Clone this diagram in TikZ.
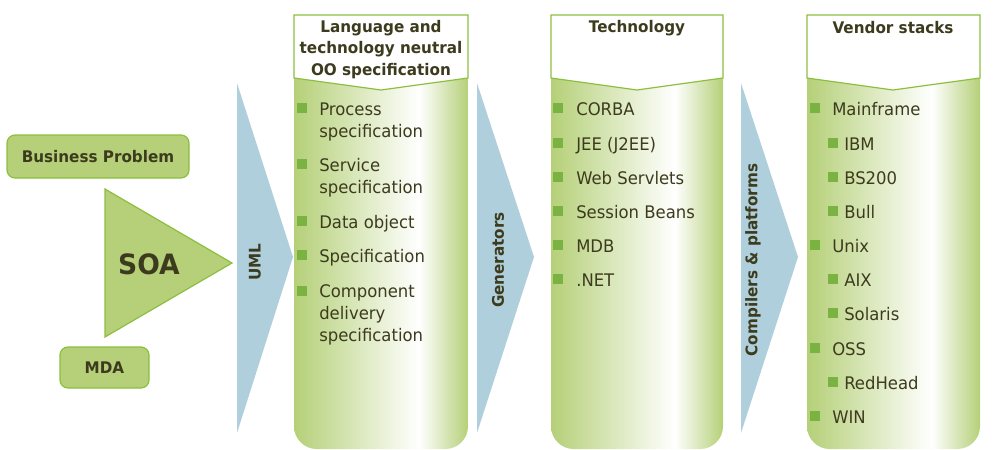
\documentclass[tikz,border=0pt]{standalone}
\usepackage{fontspec}
\setmainfont{DejaVu Sans}[FakeStretch=0.95]
\definecolor{lg}{HTML}{B5D078}
\definecolor{gb}{HTML}{8DBF3F}
\definecolor{bul}{HTML}{7AB342}
\definecolor{blu}{HTML}{AFCFDC}
\definecolor{txt}{HTML}{3D3B1E}
\pgfdeclarehorizontalshading{colgrad}{100bp}{color(0bp)=(lg); color(25bp)=(lg); color(61bp)=(white); color(75bp)=(lg); color(100bp)=(lg)}
\tikzset{
  item/.style={anchor=west, inner sep=0pt, text=txt, font=\fontsize{13}{15}\selectfont, text height=0.75em, text depth=0.25em},
  hdtext/.style={inner sep=0pt, text=txt, font=\bfseries\fontsize{12}{16.2}\selectfont, align=center},
  bulsq/.style={fill=bul, draw=none, minimum size=7.5pt, inner sep=0pt},
  hdr/.style={fill=white, draw=gb, line width=0.9pt},
  colbody/.style={shading=colgrad, rounded corners=17pt},
  blarrow/.style={fill=blu, draw=none},
  rlab/.style={rotate=90, text=txt, font=\bfseries\fontsize{12}{14}\selectfont, inner sep=0pt},
  gbox/.style={fill=lg, draw=gb, line width=0.9pt, rounded corners=6pt, text=txt, font=\bfseries\fontsize{12}{14}\selectfont}
}
\begin{document}
\begin{tikzpicture}[x=0.75pt,y=-0.75pt]
\useasboundingbox (0,0) rectangle (1004,450);
% left boxes
\node[gbox, minimum width=136.5pt, minimum height=32.25pt] (bp) at (98,156.5) {Business Problem};
\draw[fill=lg, draw=gb, line width=0.9pt] (105,189) -- (232,263) -- (105,337) -- cycle;
\node[text=txt, font=\bfseries\fontsize{21}{24}\selectfont, inner sep=0pt] (soa) at (149,264) {SOA};
\node[gbox, minimum width=66.75pt, minimum height=30.75pt] (mda) at (104.5,367.5) {MDA};
% blue arrows
\path[blarrow] (237,83) -- (293,257) -- (237,433) -- cycle;
\node[rlab] (uml) at (255,262) {UML};
\path[blarrow] (477,83) -- (534,257) -- (477,433) -- cycle;
\node[rlab] (gen) at (498,260) {Generators};
\path[blarrow] (741,83) -- (798,257) -- (741,433) -- cycle;
\node[rlab] (cmp) at (753,260) {Compilers \& platforms};
% column 1
\path[colbody] (294,50) rectangle (468,449);
\draw[hdr] (294,15) -- (468,15) -- (468,78) -- (381,90) -- (294,78) -- cycle;
\node[hdtext] (h1) at (381,49.5) {Language and\\technology neutral\\OO specification};
\foreach \n/\y in {a/110,b/166,c/223,d/257,e/293}{\node[bulsq] (b1\n) at (302,\y-2) {};}
\node[item] (p1) at (319,112) {Process};
\node[item] (p2) at (319,134) {specification};
\node[item] (s1) at (319,168) {Service};
\node[item] (s2) at (319,190) {specification};
\node[item] (d1) at (319,225) {Data object};
\node[item] (sp) at (319,259) {Specification};
\node[item] (c1) at (319,294) {Component};
\node[item] (c2) at (319,316) {delivery};
\node[item] (c3) at (319,338) {specification};
% column 2
\path[colbody] (551,50) rectangle (723,449);
\draw[hdr] (551,15) -- (723,15) -- (723,78) -- (637,90) -- (551,78) -- cycle;
\node[hdtext] (h2) at (637,28) {Technology};
\foreach \n/\y/\t in {a/110/CORBA,b/145/JEE (J2EE),c/179/Web Servlets,d/213/Session Beans,e/247/MDB,f/281/.NET}{
  \node[bulsq] (b2\n) at (558,\y-2) {};
  \node[item] (t2\n) at (576,\y+2) {\t};
}
% column 3
\path[colbody] (807,50) rectangle (980,449);
\draw[hdr] (807,15) -- (980,15) -- (980,78) -- (893,90) -- (807,78) -- cycle;
\node[hdtext] (h3) at (893,28) {Vendor stacks};
\foreach \n/\y/\t in {a/110/Mainframe,e/247/Unix,h/350/OSS,j/418/WIN}{
  \node[bulsq] (b3\n) at (815,\y-2) {};
  \node[item] (t3\n) at (832,\y+2) {\t};
}
\foreach \n/\y/\t in {b/145/IBM,c/179/BS200,d/213/Bull,f/281/AIX,g/315/Solaris,i/384/RedHead}{
  \node[bulsq] (b3\n) at (833,\y-2) {};
  \node[item] (t3\n) at (844,\y+2) {\t};
}
\end{tikzpicture}
\end{document}
